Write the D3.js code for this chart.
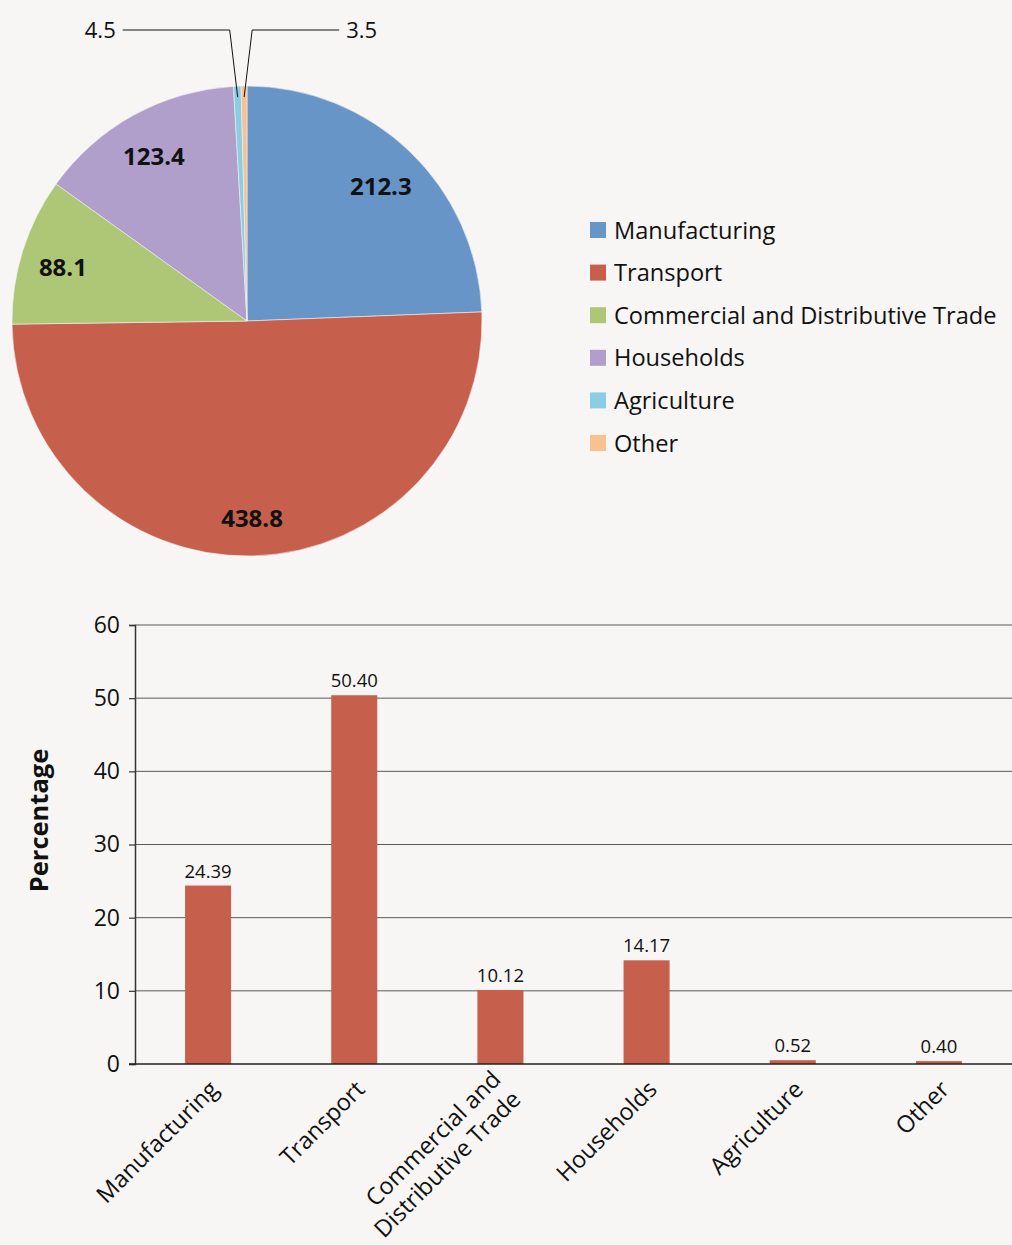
<!DOCTYPE html>
<html>
<head>
<meta charset="utf-8">
<script src="https://cdn.jsdelivr.net/npm/d3@7"></script>
<style>
  html, body { margin: 0; padding: 0; background: #f7f6f4; }
  svg { display: block; font-family: "Open Sans", "Noto Sans", sans-serif; }
</style>
</head>
<body>
<svg id="chart" width="1012" height="1245"></svg>
<script>
// Sector names, in drawing order
const categories = ["Manufacturing", "Transport", "Commercial and Distributive Trade", "Households", "Agriculture", "Other"];
// Axis labels for the bar chart (line breaks per category)
const barLabels = [["Manufacturing"], ["Transport"], ["Commercial and", "Distributive Trade"], ["Households"], ["Agriculture"], ["Other"]];
// Absolute values shown on the pie
const pieValues = [212.3, 438.8, 88.1, 123.4, 4.5, 3.5];
// Share of total, in percent
const percentValues = [24.39, 50.40, 10.12, 14.17, 0.52, 0.40];
// Y-axis ticks for the bar chart
const yTicks = [0, 10, 20, 30, 40, 50, 60];

const colors = ["#6795c8", "#c6604c", "#adc777", "#b09fcb", "#8bcde5", "#f8c18f"];
const barColor = "#c6604c";

const svg = d3.select("#chart");

// ---------- Pie ----------
const cx = 247, cy = 321, R = 235;
const pieG = svg.append("g").attr("transform", `translate(${cx},${cy})`);
const pie = d3.pie().sort(null).value(d => d.v);
const pieData = pie(categories.map((c, i) => ({ c, v: pieValues[i], i })));
const arc = d3.arc().innerRadius(0).outerRadius(R);

pieG.selectAll("path.slice").data(pieData).join("path")
  .attr("class", "slice")
  .attr("d", arc)
  .attr("fill", d => colors[d.data.i])
  .attr("stroke", "#f2f2f2")
  .attr("stroke-width", 0.6);

// Inside labels for the large slices
const labelArc = d3.arc().innerRadius(193).outerRadius(193);
pieG.selectAll("text.inlabel").data(pieData.filter(d => d.data.v > 20)).join("text")
  .attr("class", "inlabel")
  .attr("transform", d => `translate(${labelArc.centroid(d)})`)
  .attr("text-anchor", "middle")
  .attr("dy", "0.55em")
  .attr("font-size", 24)
  .attr("font-weight", 700)
  .attr("fill", "#111")
  .text(d => d.data.v.toFixed(1));

// Callout labels for the tiny slices
const tipArc = d3.arc().innerRadius(224).outerRadius(224);
const small = pieData.filter(d => d.data.v < 20);
const calloutY = 30 - cy;
small.forEach((d, k) => {
  const [sx, sy] = tipArc.centroid(d);
  const dir = k === 0 ? -1 : 1;          // first to the left, second to the right
  const ex = sx + dir * 8;
  const hx = ex + dir * (k === 0 ? 107 : 87);
  pieG.append("path")
    .attr("d", `M${sx},${sy}L${ex},${calloutY}L${hx},${calloutY}`)
    .attr("fill", "none")
    .attr("stroke", "#111")
    .attr("stroke-width", 1);
  pieG.append("text")
    .attr("x", hx + dir * 7)
    .attr("y", calloutY)
    .attr("dy", "0.36em")
    .attr("text-anchor", dir < 0 ? "end" : "start")
    .attr("font-size", 22)
    .attr("fill", "#111")
    .text(d.data.v.toFixed(1));
});

// Legend
const legend = svg.append("g").attr("transform", "translate(590,230)");
const legRow = legend.selectAll("g").data(categories).join("g")
  .attr("transform", (d, i) => `translate(0,${i * 42.6})`);
legRow.append("rect")
  .attr("x", 0).attr("y", -8).attr("width", 16).attr("height", 16)
  .attr("fill", (d, i) => colors[i]);
legRow.append("text")
  .attr("x", 24).attr("dy", "0.36em")
  .attr("font-size", 23.6)
  .attr("fill", "#111")
  .text(d => d);

// ---------- Bar chart ----------
const plotLeft = 135, plotRight = 1012, plotTop = 625, plotBottom = 1064;
const x = d3.scaleBand().domain(categories).range([plotLeft, plotRight]).paddingInner(0.685).paddingOuter(0.3425);
const y = d3.scaleLinear().domain([0, 60]).range([plotBottom, plotTop]);

const barG = svg.append("g");

// Gridlines
barG.selectAll("line.grid").data(yTicks.filter(t => t > 0)).join("line")
  .attr("class", "grid")
  .attr("x1", plotLeft).attr("x2", plotRight)
  .attr("y1", d => y(d)).attr("y2", d => y(d))
  .attr("stroke", "#5a5a5a").attr("stroke-width", 1);

// Bars
barG.selectAll("rect.bar").data(percentValues).join("rect")
  .attr("class", "bar")
  .attr("x", (d, i) => x(categories[i]))
  .attr("width", x.bandwidth())
  .attr("y", d => y(d))
  .attr("height", d => y(0) - y(d))
  .attr("fill", barColor);

// Value labels
barG.selectAll("text.val").data(percentValues).join("text")
  .attr("class", "val")
  .attr("x", (d, i) => x(categories[i]) + x.bandwidth() / 2)
  .attr("y", d => y(d) - 8)
  .attr("text-anchor", "middle")
  .attr("font-size", 18.5)
  .attr("fill", "#111")
  .text(d => d.toFixed(2));

// Y axis
const yAxis = d3.axisLeft(y).tickValues(yTicks).tickSize(6).tickPadding(9).tickFormat(d3.format("d"));
const yAxisG = barG.append("g").attr("transform", `translate(${plotLeft},0)`).call(yAxis);
yAxisG.select(".domain").attr("stroke", "#333").attr("stroke-width", 1.5);
yAxisG.selectAll(".tick line").attr("stroke", "#333").attr("stroke-width", 1.2);
yAxisG.selectAll(".tick text").attr("font-size", 23).attr("fill", "#111")
  .attr("font-family", "\"Open Sans\", sans-serif");

// X baseline
barG.append("line")
  .attr("x1", plotLeft - 6).attr("x2", plotRight)
  .attr("y1", y(0)).attr("y2", y(0))
  .attr("stroke", "#222").attr("stroke-width", 1.5);

// Category labels, rotated
const xl = barG.selectAll("text.cat").data(barLabels).join("text")
  .attr("class", "cat")
  .attr("text-anchor", "end")
  .attr("font-size", 23.5)
  .attr("fill", "#111")
  .attr("transform", (d, i) => `translate(${x(categories[i]) + x.bandwidth() / 2 + 6},${plotBottom + 21}) rotate(-45)`);
xl.each(function (lines) {
  const t = d3.select(this);
  lines.forEach((ln, j) => {
    t.append("tspan")
      .attr("x", 0)
      .attr("y", 0)
      .attr("dy", `${(j - (lines.length - 1) / 2) * 1.2 + 0.35}em`)
      .text(ln);
  });
});

// Y title
svg.append("text")
  .attr("transform", `translate(48,${(plotTop + plotBottom) / 2 - 24}) rotate(-90)`)
  .attr("text-anchor", "middle")
  .attr("font-size", 25.5)
  .attr("font-weight", 700)
  .attr("fill", "#111")
  .text("Percentage");
</script>
</body>
</html>
